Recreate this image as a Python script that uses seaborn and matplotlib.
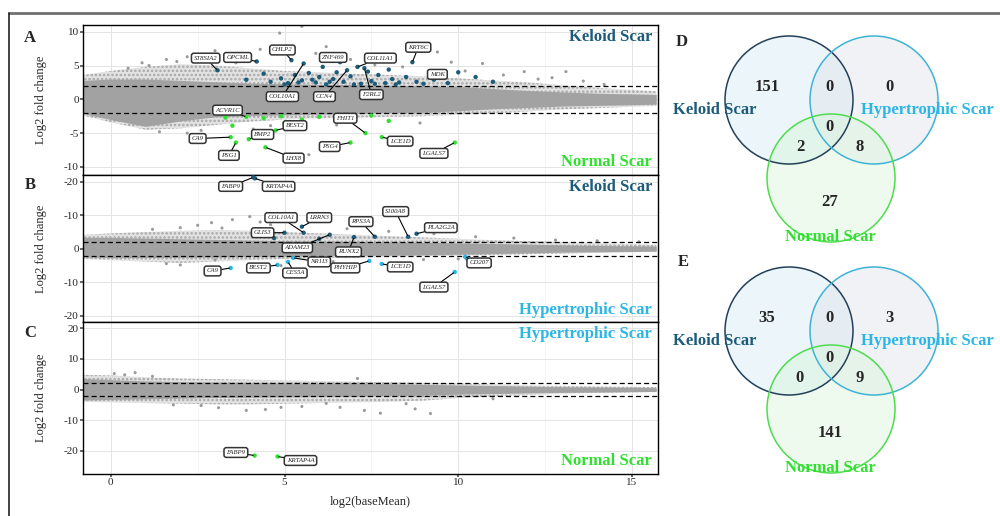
import numpy as np
import pandas as pd
import matplotlib.pyplot as plt
import seaborn as sns
from matplotlib.patches import Circle
from matplotlib.lines import Line2D
from matplotlib.ticker import MultipleLocator

sns.set_theme(style="whitegrid")
plt.rcParams['font.family'] = ['Liberation Serif', 'DejaVu Serif']
plt.rcParams['hatch.linewidth'] = 1.2

keloid_col = '#1d5b7a'
hyper_col = '#2bb6e6'
normal_col = '#30e030'
grey_col = '#9a9a9a'

# ---- background cloud of all genes: envelope ----
bm_grid = [-0.8, 0, 1, 2, 3, 4, 5, 6, 7, 8, 9, 10, 11, 12, 13, 14, 15, 15.7]

a_core_hi = [2.8, 3.0, 3.0, 2.8, 2.6, 2.4, 2.3, 2.2, 2.2, 2.1, 2.0, 1.9, 1.6, 1.3, 1.1, 0.9, 0.8, 0.7]
a_core_lo = [-2.1, -3.0, -4.0, -3.2, -2.6, -2.4, -2.3, -2.2, -2.1, -2.0, -1.9, -1.7, -1.4, -1.2, -1.0, -0.9, -0.8, -0.7]
a_halo_hi = [3.6, 4.2, 4.8, 5.2, 5.0, 4.6, 4.2, 4.0, 3.8, 3.6, 3.4, 3.1, 2.8, 2.5, 2.1, 1.7, 1.4, 1.2]
a_halo_lo = [-2.4, -3.4, -4.5, -4.3, -3.8, -3.3, -3.0, -2.8, -2.7, -2.6, -2.5, -2.3, -2.1, -1.8, -1.5, -1.3, -1.1, -1.0]

b_core_hi = [3.4, 3.4, 3.2, 3.0, 2.8, 2.6, 2.4, 2.3, 2.2, 2.1, 2.0, 1.8, 1.6, 1.4, 1.2, 1.0, 0.9, 0.8]
b_core_lo = [-2.4, -2.6, -2.6, -2.5, -2.4, -2.3, -2.2, -2.1, -2.0, -1.9, -1.8, -1.6, -1.4, -1.2, -1.0, -0.9, -0.8, -0.7]
b_halo_hi = [4.2, 4.6, 5.0, 5.4, 5.6, 5.4, 5.0, 4.6, 4.2, 3.8, 3.4, 3.0, 2.6, 2.3, 2.0, 1.7, 1.4, 1.2]
b_halo_lo = [-3.0, -3.4, -3.8, -4.2, -3.8, -3.4, -3.0, -2.8, -2.6, -2.4, -2.2, -2.0, -1.8, -1.6, -1.4, -1.2, -1.0, -0.9]

c_core_hi = [3.6, 3.2, 2.8, 2.6, 2.4, 2.3, 2.2, 2.1, 2.0, 1.9, 1.7, 1.5, 1.3, 1.1, 0.9, 0.8, 0.7, 0.6]
c_core_lo = [-3.4, -3.2, -3.0, -2.8, -2.6, -2.5, -2.4, -2.3, -2.2, -2.0, -1.8, -1.5, -1.3, -1.1, -0.9, -0.8, -0.7, -0.6]
c_halo_hi = [4.8, 4.6, 4.0, 3.6, 3.4, 3.2, 3.0, 2.8, 2.6, 2.4, 2.2, 2.0, 1.7, 1.4, 1.2, 1.0, 0.9, 0.8]
c_halo_lo = [-4.0, -4.2, -4.4, -4.6, -4.8, -4.8, -4.6, -4.4, -4.2, -4.0, -3.6, -2.8, -2.2, -1.8, -1.4, -1.1, -0.9, -0.8]

# scattered grey genes outside the cloud
a_out_x = [4.86, 5.5, 10.7, 11.9, 13.1, 9.8, 9.4, 2.2, 1.6, 3.0, 5.9, 6.2, 8.0, 0.5, 1.1, 2.8, 4.3, 12.3, 14.2, 5.7,
           6.5, 8.9, 5.2, 4.1, 0.9, 1.9, 2.5, 3.4, 3.6, 6.9, 7.6, 8.4, 10.2, 11.3, 12.7, 13.6, 2.6, 2.2, 1.4, 4.6]
a_out_y = [9.8, 10.8, 5.3, 4.1, 4.1, 5.5, 7.0, 6.3, 5.9, 7.2, 6.8, 7.8, 5.6, 4.6, 5.0, 5.8, 7.4, 3.0, 2.2, -8.2,
           -3.8, -3.5, -3.5, -4.4, 5.4, 5.6, 6.6, 6.0, 5.4, 5.9, 5.1, 4.8, 4.2, 3.6, 3.2, 2.7, -4.6, -5.0, -4.8, -3.9]
b_out_x = [3.5, 2.9, 2.0, 4.0, 2.0, 3.0, 1.2, 4.6, 6.8, 8.0, 9.3, 10.5, 11.6, 12.8, 14.0, 15.2, 4.9, 6.4, 9.0, 10.0,
           2.5, 3.2, 4.3, 1.6]
b_out_y = [8.7, 7.8, 6.3, 9.6, -4.8, -3.3, 5.8, 7.2, 6.0, 5.2, 4.5, 3.6, 3.2, 2.6, 2.4, 2.1, -5.0, -3.8, -3.2, -3.0,
           7.0, 6.2, 8.0, -4.4]
c_out_x = [3.9, 4.45, 3.1, 2.6, 7.3, 7.76, 8.76, 9.2, 8.5, 0.7, 0.1, 7.1, 5.5, 6.2, 1.8, 4.9, 11.0, 6.6, 0.4, 1.2]
c_out_y = [-6.8, -6.5, -5.9, -5.2, -6.8, -7.7, -6.3, -7.8, -4.6, 5.5, 5.2, 3.6, -5.5, -4.5, -5.0, -5.8, -3.0, -5.8,
           4.8, 4.3]

# ---- significant genes ----
a_up_x = [3.07, 4.2, 5.55, 6.8, 7.1, 8.68, 9.2, 5.2, 6.6, 7.3, 4.6, 4.9, 5.1, 5.3, 5.5, 5.7, 5.9, 6.0, 6.2, 6.4, 6.5,
          6.7, 6.9, 7.2, 7.5, 7.7, 7.9, 8.1, 8.3, 8.5, 8.8, 9.3, 9.7, 10.5, 11.0, 6.1, 4.4, 3.9, 7.4, 8.0, 10.0,
          5.0, 5.4, 5.8, 6.3, 7.0, 7.6, 8.2, 9.0]
a_up_y = [4.3, 5.6, 5.3, 4.3, 4.8, 5.5, 4.0, 5.8, 5.5, 4.6, 2.6, 3.1, 2.4, 3.6, 2.8, 3.9, 2.5, 3.3, 2.2, 3.0, 4.0,
          2.6, 3.4, 2.3, 2.7, 3.6, 2.4, 3.0, 2.5, 3.3, 2.6, 2.9, 2.4, 3.3, 2.6, 4.8, 3.8, 2.9, 4.1, 4.4, 4.0,
          2.2, 2.5, 2.9, 2.6, 2.2, 2.3, 2.2, 2.3]
a_dn_x = [3.9, 3.45, 3.6, 3.97, 4.74, 4.45, 6.9, 7.33, 7.8, 9.9, 3.5, 4.4, 4.9, 5.5, 6.0, 6.5, 7.0, 7.5, 8.0, 3.3, 5.0]
a_dn_y = [-2.6, -5.6, -6.4, -5.9, -4.6, -7.1, -6.4, -5.0, -5.6, -6.4, -3.9, -2.8, -2.5, -3.0, -2.6, -3.3, -2.7, -2.4,
          -3.2, -2.7, -3.5]

b_up_x = [4.1, 4.15, 5.55, 5.5, 5.0, 6.3, 7.0, 7.6, 8.56, 8.8, 6.0, 4.7]
b_up_y = [21.3, 21.0, 4.8, 6.6, 4.8, 4.2, 3.5, 3.6, 3.6, 4.5, 3.0, 3.2]
b_dn_x = [3.45, 4.8, 5.1, 5.25, 7.44, 7.8, 10.2, 10.25, 9.9]
b_dn_y = [-5.7, -4.8, -3.9, -2.7, -3.6, -4.5, -2.4, -2.9, -6.9]

c_dn_x = [4.14, 4.8]
c_dn_y = [-21.5, -21.8]

# labelled genes: name, point (baseMean, lfc)
a_genes = ['ST8SIA2', 'OPCML', 'CHLP2', 'COL10A1', 'ZNF469', 'COL11A1', 'CCN4', 'F2RL2', 'KRT6C', 'MDK',
           'ACVR1C', 'CA9', 'PSG1', 'BMP2', 'BEST2', 'LHX8', 'PSG4', 'FHIT1', 'LCE1D', 'LGALS7']
a_gene_x = [3.07, 4.2, 5.2, 5.55, 6.6, 7.1, 6.8, 7.3, 8.68, 9.2, 3.9, 3.45, 3.6, 3.97, 4.74, 4.45, 6.9, 7.33, 7.8, 9.9]
a_gene_y = [4.3, 5.6, 5.8, 5.3, 5.5, 4.8, 4.3, 4.6, 5.5, 4.0, -2.6, -5.6, -6.4, -5.9, -4.6, -7.1, -6.4, -5.0, -5.6, -6.4]
a_lab_pos = [(2.73, 6.1), (3.65, 6.2), (4.94, 7.3), (4.94, 0.4), (6.4, 6.2), (7.76, 6.1), (6.15, 0.4), (7.5, 0.7),
             (8.85, 7.7), (9.4, 3.7), (3.36, -1.6), (2.5, -5.8), (3.4, -8.3), (4.37, -5.2), (5.3, -3.9),
             (5.26, -8.7), (6.3, -7.0), (6.75, -2.8), (8.33, -6.2), (9.3, -8.0)]

b_genes = ['FABP9', 'KRTAP4A', 'COL10A1', 'LRRN3', 'GLIS3', 'ADAM23', 'RUNX2', 'RPS3A', 'S100A8', 'PLA2G2A',
           'CA9', 'BEST2', 'CES5A', 'NR1I3', 'PHYHIP', 'LCE1D', 'CD207', 'LGALS7']
b_gene_x = [4.1, 4.15, 5.55, 5.5, 5.0, 6.3, 7.0, 7.6, 8.56, 8.8, 3.45, 4.8, 5.1, 5.25, 7.44, 7.8, 10.2, 9.9]
b_gene_y = [21.3, 21.0, 4.8, 6.6, 4.8, 4.2, 3.5, 3.6, 3.6, 4.5, -5.7, -4.8, -3.9, -2.7, -3.6, -4.5, -2.4, -6.9]
b_lab_pos = [(3.45, 18.6), (4.83, 18.6), (4.9, 9.3), (6.0, 9.3), (4.37, 4.8), (5.37, 0.3), (6.84, -0.9),
             (7.2, 8.1), (8.2, 11.1), (9.5, 6.3), (2.93, -6.6), (4.25, -5.7), (5.3, -7.2), (6.0, -3.9),
             (6.75, -5.7), (8.33, -5.4), (10.6, -4.2), (9.3, -11.4)]

c_genes = ['FABP9', 'KRTAP4A']
c_gene_x = [4.14, 4.8]
c_gene_y = [-21.5, -21.8]
c_lab_pos = [(3.6, -20.5), (5.46, -23.1)]

# venn counts: K, KH, H, KHN, KN, HN, N
venn_regions = ['K', 'KH', 'H', 'KHN', 'KN', 'HN', 'N']
d_counts = [151, 0, 0, 0, 2, 8, 27]
e_counts = [35, 0, 3, 0, 0, 9, 141]

fig = plt.figure(figsize=(10, 5.16), dpi=100)

W, H = 1000.0, 516.0
ax_a = fig.add_axes([83 / W, 1 - 175 / H, 575 / W, 150 / H])
ax_b = fig.add_axes([83 / W, 1 - 322 / H, 575 / W, 147 / H])
ax_c = fig.add_axes([83 / W, 1 - 474 / H, 575 / W, 152 / H])


def draw_ma(ax, core_hi, core_lo, halo_hi, halo_lo, out_x, out_y):
    # speckled halo of low-density genes, solid core between the cut-offs
    ax.fill_between(bm_grid, halo_lo, halo_hi, facecolor='#e2e2e2', edgecolor='#a8a8a8', hatch='....',
                    lw=0, zorder=1)
    ax.fill_between(bm_grid, core_lo, core_hi, color='#a2a2a2', lw=0, zorder=2)
    sns.scatterplot(x=out_x, y=out_y, ax=ax, color=grey_col, s=5, edgecolor='none', zorder=2)
    ax.axhline(2, color='black', ls=(0, (4, 2.5)), lw=0.9, zorder=3)
    ax.axhline(-2, color='black', ls=(0, (4, 2.5)), lw=0.9, zorder=3)


def label_genes(ax, names, gx, gy, pos):
    for name, x, y, (lx, ly) in zip(names, gx, gy, pos):
        ax.annotate(name, xy=(x, y), xytext=(lx, ly), fontsize=4.9, style='italic', ha='center', va='center',
                    bbox=dict(boxstyle='round,pad=0.35', fc='white', ec='#333333', lw=1.1),
                    arrowprops=dict(arrowstyle='-', color='black', lw=0.8, shrinkA=0, shrinkB=1),
                    zorder=6)


def style_axis(ax, ylim, yticks, yticklabels):
    ax.set_xlim(-0.8, 15.75)
    ax.set_ylim(*ylim)
    ax.set_xticks([0, 5, 10, 15])
    ax.set_yticks(yticks)
    ax.set_yticklabels(yticklabels)
    ax.xaxis.set_minor_locator(MultipleLocator(2.5))
    ax.grid(True, which='major', color='#e4e4e4', lw=0.7)
    ax.grid(True, which='minor', color='#f0f0f0', lw=0.5)
    ax.tick_params(axis='both', labelsize=8, length=2, color='#555555', pad=1, left=True, bottom=True)
    ax.tick_params(which='minor', length=0)
    for s in ax.spines.values():
        s.set_color('black')
        s.set_linewidth(1.0)
    ax.set_ylabel('Log2 fold change', fontsize=9)
    ax.yaxis.set_label_coords(-0.063, 0.5)
    ax.set_axisbelow(True)


# panel A: keloid vs normal
draw_ma(ax_a, a_core_hi, a_core_lo, a_halo_hi, a_halo_lo, a_out_x, a_out_y)
sns.scatterplot(x=a_up_x, y=a_up_y, ax=ax_a, color=keloid_col, s=10, edgecolor='none', zorder=4)
sns.scatterplot(x=a_dn_x, y=a_dn_y, ax=ax_a, color=normal_col, s=10, edgecolor='none', zorder=4)
label_genes(ax_a, a_genes, a_gene_x, a_gene_y, a_lab_pos)
style_axis(ax_a, (-11.2, 11.0), [10, 5, 0, -5, -10], ['10', '5', '0', '-5', '-10'])
ax_a.set_xticklabels([])

# panel B: keloid vs hypertrophic
draw_ma(ax_b, b_core_hi, b_core_lo, b_halo_hi, b_halo_lo, b_out_x, b_out_y)
sns.scatterplot(x=b_up_x, y=b_up_y, ax=ax_b, color=keloid_col, s=10, edgecolor='none', zorder=4, clip_on=False)
sns.scatterplot(x=b_dn_x, y=b_dn_y, ax=ax_b, color=hyper_col, s=10, edgecolor='none', zorder=4)
label_genes(ax_b, b_genes, b_gene_x, b_gene_y, b_lab_pos)
style_axis(ax_b, (-21.8, 22.0), [20, 10, 0, -10, -20], ['-20', '-10', '0', '-10', '-20'])
ax_b.set_xticklabels([])

# panel C: hypertrophic vs normal
draw_ma(ax_c, c_core_hi, c_core_lo, c_halo_hi, c_halo_lo, c_out_x, c_out_y)
sns.scatterplot(x=c_dn_x, y=c_dn_y, ax=ax_c, color=normal_col, s=10, edgecolor='none', zorder=4)
label_genes(ax_c, c_genes, c_gene_x, c_gene_y, c_lab_pos)
style_axis(ax_c, (-27.5, 22.0), [20, 10, 0, -10, -20], ['20', '10', '0', '-10', '-20'])
ax_c.set_xlabel('log2(baseMean)', fontsize=9, labelpad=6)

for ax, top, top_c, bot, bot_c in [(ax_a, 'Keloid Scar', keloid_col, 'Normal Scar', normal_col),
                                   (ax_b, 'Keloid Scar', keloid_col, 'Hypertrophic Scar', hyper_col),
                                   (ax_c, 'Hypertrophic Scar', hyper_col, 'Normal Scar', normal_col)]:
    ax.text(0.99, 0.975, top, transform=ax.transAxes, ha='right', va='top', fontsize=12,
            fontweight='bold', color=top_c, zorder=7)
    ax.text(0.99, 0.03, bot, transform=ax.transAxes, ha='right', va='bottom', fontsize=12,
            fontweight='bold', color=bot_c, zorder=7)

for letter, ypx in [('A', 38), ('B', 185), ('C', 333)]:
    fig.text(30 / W, 1 - ypx / H, letter, fontsize=12, fontweight='bold', ha='center', va='center')

# ---- venn diagrams (pixel coordinates of the figure) ----
ax_v = fig.add_axes([660 / W, 0, 340 / W, 1])
ax_v.set_xlim(660, 1000)
ax_v.set_ylim(516, 0)
ax_v.axis('off')

circle_style = [((789, 100), '#d4e9f6', '#23405a'),
                ((874, 100), '#dfe4ec', '#3fb3d6'),
                ((831, 178), '#d9f5d9', '#4fdc4f')]
region_pos = {'K': (767, 87), 'KH': (830, 87), 'H': (889, 87), 'KHN': (830, 127),
              'KN': (800, 147), 'HN': (860, 147), 'N': (830, 202)}

for counts, dy, letter, lpos in [(d_counts, 0, 'D', (682, 42)), (e_counts, 231, 'E', (683, 262))]:
    for (cx, cy), fc, ec in circle_style:
        ax_v.add_patch(Circle((cx, cy + dy), 64, facecolor=fc, alpha=0.45, edgecolor='none'))
    for (cx, cy), fc, ec in circle_style:
        ax_v.add_patch(Circle((cx, cy + dy), 64, facecolor='none', edgecolor=ec, lw=1.1))
    for reg, n in zip(venn_regions, counts):
        x, y = region_pos[reg]
        ax_v.text(x, y + dy, str(n), fontsize=12, fontweight='bold', ha='center', va='center')
    ax_v.text(715, 110 + dy, 'Keloid Scar', fontsize=12, fontweight='bold', color=keloid_col,
              ha='center', va='center')
    ax_v.text(927, 110 + dy, 'Hypertrophic Scar', fontsize=12, fontweight='bold', color=hyper_col,
              ha='center', va='center')
    ax_v.text(830, 237 + dy, 'Normal Scar', fontsize=12, fontweight='bold', color=normal_col,
              ha='center', va='center')
    ax_v.text(lpos[0], lpos[1], letter, fontsize=12, fontweight='bold', ha='center', va='center')

# outer frame of the figure
fig.add_artist(Line2D([9 / W, 1], [1 - 13 / H, 1 - 13 / H], color='#707070', lw=2))
fig.add_artist(Line2D([9 / W, 9 / W], [0, 1 - 13 / H], color='#222222', lw=1.2))

fig.savefig('out.png', dpi=100)
